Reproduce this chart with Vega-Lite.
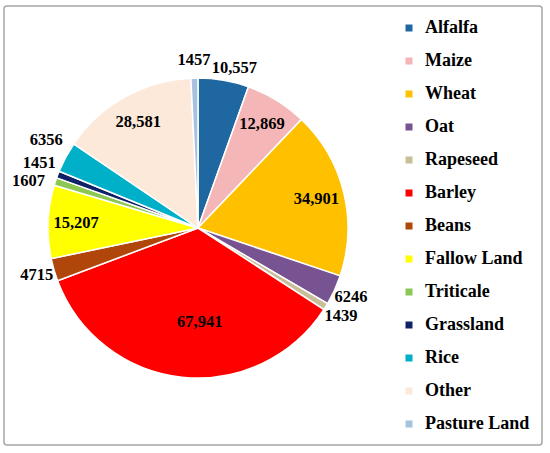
{
  "$schema": "https://vega.github.io/schema/vega-lite/v6.json",
  "width": 538,
  "height": 439,
  "padding": {"left": 4, "top": 6, "right": 8, "bottom": 8},
  "autosize": {"type": "none"},
  "background": "white",
  "view": {"stroke": "#A6A6A6", "strokeWidth": 1.5, "cornerRadius": 3},
  "config": {
    "font": "Liberation Serif",
    "text": {"font": "Liberation Serif", "fontSize": 16.5, "fontWeight": "bold", "color": "black", "x": 194, "y": 222}
  },
  "data": {
    "values": [
      {"rank": 1, "crop": "Alfalfa", "area": 10557},
      {"rank": 2, "crop": "Maize", "area": 12869},
      {"rank": 3, "crop": "Wheat", "area": 34901},
      {"rank": 4, "crop": "Oat", "area": 6246},
      {"rank": 5, "crop": "Rapeseed", "area": 1439},
      {"rank": 6, "crop": "Barley", "area": 67941},
      {"rank": 7, "crop": "Beans", "area": 4715},
      {"rank": 8, "crop": "Fallow Land", "area": 15207},
      {"rank": 9, "crop": "Triticale", "area": 1607},
      {"rank": 10, "crop": "Grassland", "area": 1451},
      {"rank": 11, "crop": "Rice", "area": 6356},
      {"rank": 12, "crop": "Other", "area": 28581},
      {"rank": 13, "crop": "Pasture Land", "area": 1457}
    ]
  },
  "transform": [
    {"calculate": "datum.area >= 10000 ? format(datum.area, ',') : format(datum.area, 'd')", "as": "label"}
  ],
  "encoding": {
    "theta": {"field": "area", "type": "quantitative", "stack": true},
    "order": {"field": "rank", "type": "quantitative"}
  },
  "layer": [
    {
      "mark": {"type": "arc", "radius": 150, "x": 194, "y": 222, "stroke": "white", "strokeWidth": 1.5},
      "encoding": {
        "color": {
          "field": "crop",
          "type": "nominal",
          "sort": null,
          "scale": {
            "domain": ["Alfalfa", "Maize", "Wheat", "Oat", "Rapeseed", "Barley", "Beans", "Fallow Land", "Triticale", "Grassland", "Rice", "Other", "Pasture Land"],
            "range": ["#1F67A0", "#F4B6B6", "#FFC000", "#785391", "#C8BE98", "#FF0000", "#B1460A", "#FFFF00", "#8CC653", "#0F2167", "#00AFC8", "#FDE9DA", "#A9C1E1"]
          },
          "legend": {
            "orient": "none",
            "legendX": 396,
            "legendY": 13,
            "title": null,
            "symbolType": "square",
            "symbolSize": 49,
            "symbolStrokeWidth": 0,
            "labelFont": "Liberation Serif",
            "labelFontSize": 18,
            "labelFontWeight": "bold",
            "labelColor": "black",
            "labelOffset": 7,
            "rowPadding": 15,
            "padding": 0
          }
        }
      }
    },
    {
      "mark": {"type": "text", "radius": 122},
      "encoding": {
        "detail": {"field": "crop"},
        "text": {"condition": {"test": "datum.area > 11000 && datum.area < 60000", "field": "label"}, "value": ""}
      }
    },
    {
      "mark": {"type": "text", "radius": 95, "dx": 12},
      "encoding": {
        "detail": {"field": "crop"},
        "text": {"condition": {"test": "datum.area > 60000", "field": "label"}, "value": ""}
      }
    },
    {
      "mark": {"type": "text", "radius": 168},
      "encoding": {
        "detail": {"field": "crop"},
        "text": {"condition": {"test": "indexof(['Pasture Land', 'Oat', 'Rapeseed', 'Beans'], datum.crop) >= 0", "field": "label"}, "value": ""}
      }
    },
    {
      "mark": {"type": "text", "radius": 166, "dx": 8, "dy": 4},
      "encoding": {
        "detail": {"field": "crop"},
        "text": {"condition": {"test": "datum.crop == 'Alfalfa'", "field": "label"}, "value": ""}
      }
    },
    {
      "mark": {"type": "text", "radius": 172, "dx": -6, "dy": 6},
      "encoding": {
        "detail": {"field": "crop"},
        "text": {"condition": {"test": "datum.crop == 'Triticale'", "field": "label"}, "value": ""}
      }
    },
    {
      "mark": {"type": "text", "radius": 170, "dy": -4},
      "encoding": {
        "detail": {"field": "crop"},
        "text": {"condition": {"test": "datum.crop == 'Grassland'", "field": "label"}, "value": ""}
      }
    },
    {
      "mark": {"type": "text", "radius": 172, "dy": -7},
      "encoding": {
        "detail": {"field": "crop"},
        "text": {"condition": {"test": "datum.crop == 'Rice'", "field": "label"}, "value": ""}
      }
    }
  ]
}
